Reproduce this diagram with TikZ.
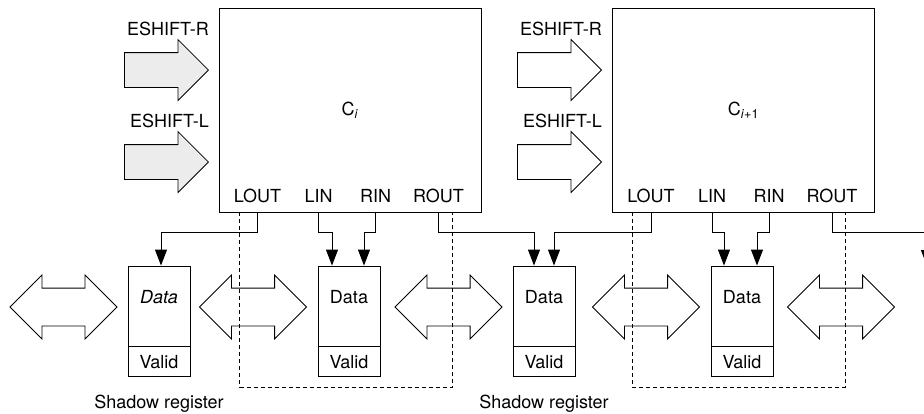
\documentclass[tikz,border=0pt]{standalone}
\usepackage{fontspec}
\setmainfont{TeX Gyre Heros}
\usetikzlibrary{arrows.meta,shapes.arrows,positioning}

\begin{document}
\begin{tikzpicture}[
  x=1pt, y=-1pt,                            % one unit = one pixel, y runs down
  font=\fontsize{18}{21}\selectfont,
  cell/.style     = {draw,
                     line width=0.9pt,
                     minimum width=262pt,
                     minimum height=204pt,
                     inner sep=0pt},
  port/.style     = {inner sep=0pt},
  datbox/.style   = {draw,
                     line width=0.9pt,
                     minimum width=62pt,
                     minimum height=80pt,
                     inner sep=0pt,
                     text height=13pt,
                     text depth=19pt},      % pushes the text up a bit
  valbox/.style   = {draw,
                     line width=0.9pt,
                     minimum width=62pt,
                     minimum height=30pt,
                     inner sep=0pt},
  eshift/.style   = {single arrow,
                     draw,
                     line width=0.8pt,
                     inner xsep=0pt,
                     inner ysep=17pt,
                     single arrow head extend=13pt,
                     minimum height=84pt,
                     anchor=tip},
  busarrow/.style = {double arrow,
                     draw,
                     line width=0.8pt,
                     inner xsep=0pt,
                     inner ysep=18.5pt,
                     double arrow head extend=13pt,
                     minimum height=107pt},
  link/.style     = {-{Triangle[length=16pt,width=12pt]}, line width=1pt},
  group/.style    = {line width=0.6pt, dash pattern=on 4pt off 3pt},
  lbl/.style      = {inner sep=0pt}
]
\useasboundingbox (0,0) rectangle (924,413);

% the two cells
\node[cell] (cell1) at (350,110)   {C\textsubscript{\textit{i}}};
\node[cell] (cell2) at (743.5,110) {C\textsubscript{\textit{i}+1}};

\node[port] (lout1) at ([shift={(39,-17)}]cell1.south west)  {LOUT};
\node[port] (lin1)  at ([shift={(100,-17)}]cell1.south west) {LIN};
\node[port] (rin1)  at ([shift={(157,-17)}]cell1.south west) {RIN};
\node[port] (rout1) at ([shift={(220,-17)}]cell1.south west) {ROUT};

\node[port] (lout2) at ([shift={(39,-17)}]cell2.south west)  {LOUT};
\node[port] (lin2)  at ([shift={(100,-17)}]cell2.south west) {LIN};
\node[port] (rin2)  at ([shift={(157,-17)}]cell2.south west) {RIN};
\node[port] (rout2) at ([shift={(220,-17)}]cell2.south west) {ROUT};

% shift inputs
\node[eshift, fill=gray!15] (sr1) at (209,70)  {};
\node[eshift, fill=gray!15] (sl1) at (209,162) {};
\node[eshift]               (sr2) at (602,70)  {};
\node[eshift]               (sl2) at (602,162) {};

\node[lbl, anchor=base east] (tr1) at (209,35)  {ESHIFT-R};
\node[lbl, anchor=base east] (tl1) at (209,127) {ESHIFT-L};
\node[lbl, anchor=base east] (tr2) at (602,35)  {ESHIFT-R};
\node[lbl, anchor=base east] (tl2) at (602,127) {ESHIFT-L};

% registers
\node[datbox] (d1) at (159,306) {\textit{Data}};
\node[valbox, below=0pt of d1] (v1) {Valid};
\node[datbox] (d2) at (349,306) {Data};
\node[valbox, below=0pt of d2] (v2) {Valid};
\node[datbox] (d3) at (544,306) {Data};
\node[valbox, below=0pt of d3] (v3) {Valid};
\node[datbox] (d4) at (742,306) {Data};
\node[valbox, below=0pt of d4] (v4) {Valid};

\node[lbl, below=17pt of v1] (sh1) {Shadow register};
\node[lbl, below=17pt of v3] (sh2) {Shadow register};

% data paths between registers
\node[busarrow] (b0) at (63.5,307)  {};
\node[busarrow] (b1) at (253,307)   {};
\node[busarrow] (b2) at (448.5,307) {};
\node[busarrow] (b3) at (646,307)   {};
\node[busarrow] (b4) at (841,307)   {};

% port connections
\coordinate (nextreg) at (927,266);
\draw[link] (lout1 |- cell1.south) -- ++(0,20) -| ([xshift=2pt]d1.north);
\draw[link] (lin1 |- cell1.south)  -- ++(0,20) -| ([xshift=-17pt]d2.north);
\draw[link] (rin1 |- cell1.south)  -- ++(0,20) -| ([xshift=15pt]d2.north);
\draw[link] (rout1 |- cell1.south) -- ++(0,20) -| ([xshift=-10pt]d3.north);
\draw[link] (lout2 |- cell2.south) -- ++(0,20) -| ([xshift=10pt]d3.north);
\draw[link] (lin2 |- cell2.south)  -- ++(0,20) -| ([xshift=-18pt]d4.north);
\draw[link] (rin2 |- cell2.south)  -- ++(0,20) -| ([xshift=15pt]d4.north);
\draw[link] (rout2 |- cell2.south) -- ++(0,20) -| (nextreg);

% dashed groups
\draw[group] ([shift={(21,0)}]cell1.south west) -- ++(0,175) -| ([shift={(234,0)}]cell1.south west);
\draw[group] ([shift={(20,0)}]cell2.south west) -- ++(0,175) -| ([shift={(233,0)}]cell2.south west);

\end{tikzpicture}
\end{document}
